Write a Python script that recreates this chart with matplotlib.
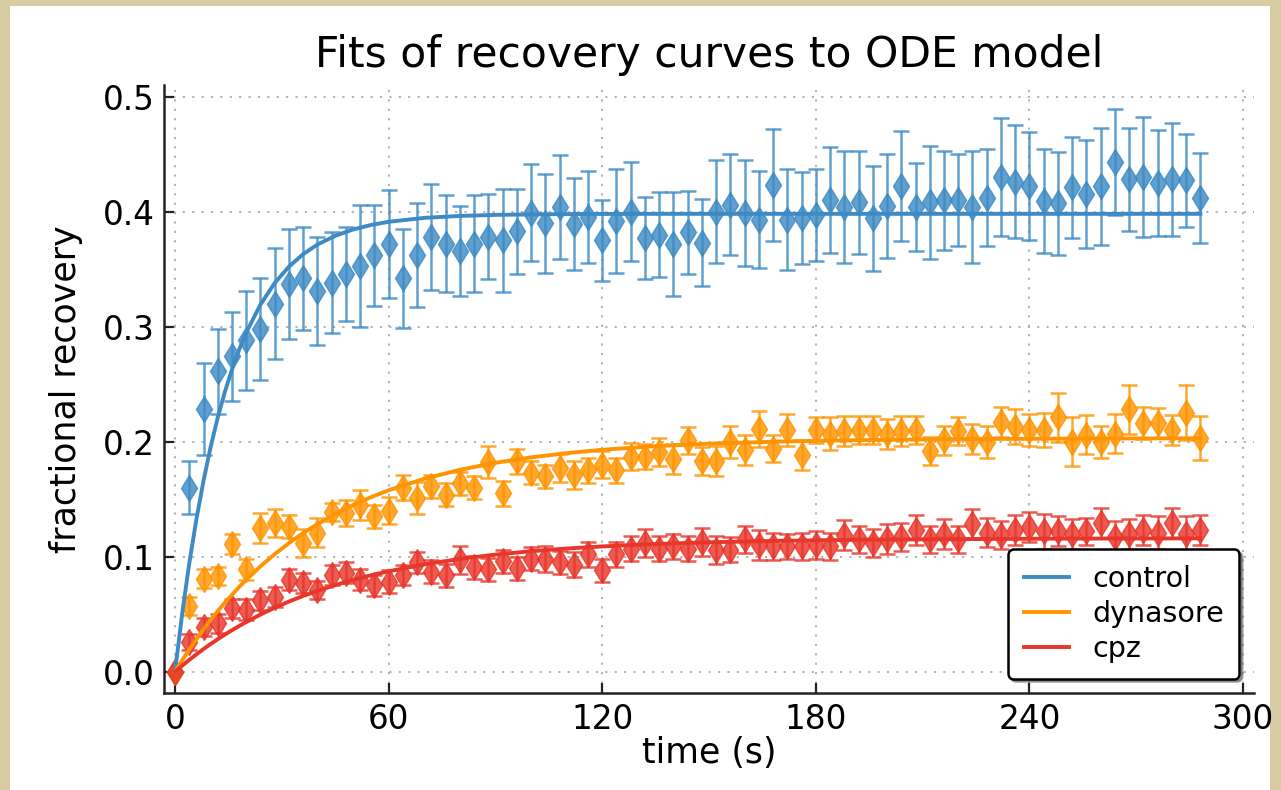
import matplotlib
matplotlib.use('Agg')
import matplotlib.pyplot as plt
from matplotlib.patches import Rectangle

# sampling times (s)
time_s = [0, 4, 8, 12, 16, 20, 24, 28, 32, 36, 40, 44, 48, 52, 56, 60, 64, 68, 72, 76,
          80, 84, 88, 92, 96, 100, 104, 108, 112, 116, 120, 124, 128, 132, 136, 140,
          144, 148, 152, 156, 160, 164, 168, 172, 176, 180, 184, 188, 192, 196, 200,
          204, 208, 212, 216, 220, 224, 228, 232, 236, 240, 244, 248, 252, 256, 260,
          264, 268, 272, 276, 280, 284, 288]

control = [0.0, 0.160, 0.228, 0.261, 0.274, 0.288, 0.298, 0.320, 0.337, 0.342, 0.331,
           0.338, 0.346, 0.353, 0.362, 0.372, 0.342, 0.362, 0.378, 0.372, 0.366, 0.372,
           0.378, 0.375, 0.383, 0.399, 0.390, 0.404, 0.389, 0.395, 0.375, 0.392, 0.400,
           0.377, 0.380, 0.372, 0.382, 0.373, 0.400, 0.406, 0.399, 0.393, 0.423, 0.393,
           0.394, 0.397, 0.410, 0.404, 0.408, 0.394, 0.405, 0.422, 0.404, 0.408, 0.410,
           0.410, 0.404, 0.412, 0.430, 0.426, 0.422, 0.409, 0.407, 0.421, 0.415, 0.422,
           0.443, 0.428, 0.430, 0.425, 0.428, 0.427, 0.412]
control_err = [0.0, 0.023, 0.040, 0.037, 0.039, 0.043, 0.044, 0.048, 0.048, 0.045, 0.047,
               0.044, 0.041, 0.053, 0.044, 0.047, 0.043, 0.045, 0.046, 0.042, 0.039, 0.042,
               0.037, 0.045, 0.037, 0.042, 0.043, 0.045, 0.040, 0.040, 0.035, 0.045, 0.043,
               0.036, 0.037, 0.045, 0.036, 0.038, 0.045, 0.044, 0.046, 0.042, 0.049, 0.044,
               0.040, 0.040, 0.046, 0.049, 0.045, 0.046, 0.045, 0.048, 0.038, 0.049, 0.043,
               0.040, 0.049, 0.042, 0.051, 0.049, 0.047, 0.045, 0.045, 0.044, 0.047, 0.051,
               0.046, 0.045, 0.052, 0.046, 0.049, 0.040, 0.039]

dynasore = [0.0, 0.057, 0.081, 0.083, 0.111, 0.089, 0.125, 0.129, 0.126, 0.112, 0.121,
            0.139, 0.138, 0.145, 0.135, 0.140, 0.160, 0.151, 0.161, 0.154, 0.164, 0.160,
            0.182, 0.155, 0.183, 0.173, 0.170, 0.177, 0.171, 0.175, 0.180, 0.175, 0.187,
            0.187, 0.191, 0.185, 0.201, 0.183, 0.183, 0.200, 0.193, 0.211, 0.194, 0.210,
            0.188, 0.210, 0.207, 0.209, 0.210, 0.210, 0.207, 0.209, 0.210, 0.192, 0.201,
            0.209, 0.202, 0.200, 0.217, 0.213, 0.210, 0.210, 0.221, 0.200, 0.206, 0.200,
            0.207, 0.228, 0.216, 0.216, 0.210, 0.225, 0.203]
dynasore_err = [0.0, 0.008, 0.008, 0.008, 0.009, 0.009, 0.013, 0.012, 0.010, 0.012, 0.013,
                0.008, 0.011, 0.013, 0.010, 0.012, 0.011, 0.014, 0.010, 0.010, 0.010, 0.010,
                0.014, 0.011, 0.011, 0.010, 0.010, 0.012, 0.012, 0.011, 0.012, 0.011, 0.012,
                0.011, 0.012, 0.013, 0.012, 0.012, 0.013, 0.014, 0.013, 0.016, 0.012, 0.014,
                0.013, 0.011, 0.014, 0.013, 0.012, 0.012, 0.013, 0.013, 0.012, 0.012, 0.013,
                0.012, 0.013, 0.014, 0.013, 0.015, 0.014, 0.015, 0.021, 0.021, 0.017, 0.014,
                0.017, 0.021, 0.014, 0.013, 0.013, 0.024, 0.019]

cpz = [0.0, 0.026, 0.039, 0.042, 0.055, 0.054, 0.062, 0.065, 0.080, 0.077, 0.071,
       0.084, 0.086, 0.080, 0.075, 0.078, 0.084, 0.095, 0.087, 0.084, 0.097, 0.091,
       0.089, 0.096, 0.090, 0.098, 0.098, 0.095, 0.093, 0.102, 0.088, 0.102, 0.107,
       0.112, 0.107, 0.109, 0.107, 0.113, 0.106, 0.106, 0.115, 0.110, 0.109, 0.109,
       0.109, 0.110, 0.109, 0.119, 0.115, 0.112, 0.115, 0.117, 0.123, 0.115, 0.120,
       0.115, 0.128, 0.121, 0.119, 0.123, 0.126, 0.122, 0.122, 0.120, 0.122, 0.129,
       0.117, 0.120, 0.123, 0.121, 0.129, 0.120, 0.123]
cpz_err = [0.0, 0.007, 0.008, 0.008, 0.008, 0.009, 0.008, 0.009, 0.009, 0.009, 0.008,
           0.009, 0.009, 0.009, 0.009, 0.010, 0.009, 0.009, 0.010, 0.010, 0.012, 0.010,
           0.010, 0.010, 0.010, 0.010, 0.011, 0.010, 0.011, 0.011, 0.010, 0.011, 0.011,
           0.012, 0.011, 0.011, 0.011, 0.012, 0.012, 0.011, 0.012, 0.013, 0.012, 0.011,
           0.012, 0.012, 0.012, 0.013, 0.012, 0.012, 0.013, 0.012, 0.013, 0.012, 0.013,
           0.012, 0.013, 0.013, 0.012, 0.013, 0.013, 0.015, 0.013, 0.013, 0.012, 0.013,
           0.014, 0.013, 0.013, 0.014, 0.013, 0.015, 0.013]

# ODE model fits
fit_t = [0, 2, 4, 6, 8, 10, 12, 14, 16, 18, 20, 24, 28, 32, 36, 40, 45, 50, 55, 60,
         70, 80, 90, 100, 110, 120, 135, 150, 170, 190, 220, 250, 288]
fit_control = [0.0, 0.0503, 0.0942, 0.1325, 0.166, 0.1954, 0.2209, 0.2433, 0.2627,
               0.2799, 0.2948, 0.3192, 0.3379, 0.3521, 0.3630, 0.3713, 0.3789, 0.3844,
               0.3883, 0.3911, 0.3945, 0.3962, 0.3971, 0.3975, 0.3978, 0.3979, 0.398,
               0.398, 0.398, 0.398, 0.398, 0.398, 0.398]
fit_dynasore = [0.0, 0.0099, 0.0193, 0.0283, 0.0368, 0.0449, 0.0526, 0.0600, 0.0669,
                0.0736, 0.0799, 0.0916, 0.1022, 0.1118, 0.1205, 0.1283, 0.1371, 0.1448,
                0.1517, 0.1577, 0.1677, 0.1755, 0.1816, 0.1863, 0.1900, 0.1929, 0.1961,
                0.1982, 0.2001, 0.2012, 0.2022, 0.2026, 0.2029]
fit_cpz = [0.0, 0.0053, 0.0103, 0.0151, 0.0197, 0.0241, 0.0283, 0.0323, 0.0361, 0.0397,
           0.0432, 0.0497, 0.0556, 0.0610, 0.0659, 0.0703, 0.0753, 0.0798, 0.0838,
           0.0873, 0.0933, 0.0980, 0.1018, 0.1047, 0.1071, 0.1089, 0.1110, 0.1125,
           0.1138, 0.1146, 0.1153, 0.1157, 0.1159]

labels = ['control', 'dynasore', 'cpz']
colors = ['#3d8ac4', '#ff9400', '#e8362b']

plt.rcParams['font.family'] = 'DejaVu Sans'

fig = plt.figure(figsize=(12.81, 7.90), dpi=100)
fig.patch.set_facecolor('#d9cba3')
fig.add_artist(Rectangle((10 / 1281, 0), 1260 / 1281, 784 / 790,
                         transform=fig.transFigure, facecolor='white',
                         edgecolor='none', zorder=-10))

ax = fig.add_axes([0.1283, 0.1228, 0.8504, 0.7696])

series = [(control, control_err, fit_control),
          (dynasore, dynasore_err, fit_dynasore),
          (cpz, cpz_err, fit_cpz)]

for (vals, errs, fit), col in zip(series, colors):
    ax.errorbar(time_s, vals, yerr=errs, fmt='d', color=col, ecolor=col, mec=col,
                alpha=0.82, markersize=13, elinewidth=1.8, capsize=5.5,
                capthick=1.8, zorder=2)
for (vals, errs, fit), lab, col in zip(series, labels, colors):
    ax.plot(fit_t, fit, color=col, lw=2.8, label=lab, zorder=3)

ax.set_xlim(-3, 303)
ax.set_ylim(-0.0185, 0.51)
ax.set_xticks([0, 60, 120, 180, 240, 300])
ax.set_yticks([0.0, 0.1, 0.2, 0.3, 0.4, 0.5])
ax.set_yticklabels(['0.0', '0.1', '0.2', '0.3', '0.4', '0.5'])

ax.grid(True, color='#ababab', linestyle=(0, (1.2, 4)), linewidth=1.3)
ax.set_axisbelow(True)

for side in ['top', 'right']:
    ax.spines[side].set_visible(False)
for side in ['left', 'bottom']:
    ax.spines[side].set_linewidth(1.8)
    ax.spines[side].set_color('#222222')

ax.tick_params(direction='in', length=7, width=1.6, color='#222222',
               labelsize=23.5, pad=7, top=False, right=False)

ax.set_title('Fits of recovery curves to ODE model', fontsize=30.5, pad=13)
ax.set_xlabel('time (s)', fontsize=25, labelpad=0)
ax.set_ylabel('fractional recovery', fontsize=25, labelpad=14)

leg = ax.legend(loc='lower right', fancybox=True, shadow=True, framealpha=1,
                handlelength=1.6, labelspacing=0.25, borderpad=0.55,
                fontsize=20.5, borderaxespad=0.5)
leg.get_frame().set_edgecolor('black')
leg.get_frame().set_linewidth(1.8)

fig.savefig('out.png', dpi=100, facecolor=fig.get_facecolor())
